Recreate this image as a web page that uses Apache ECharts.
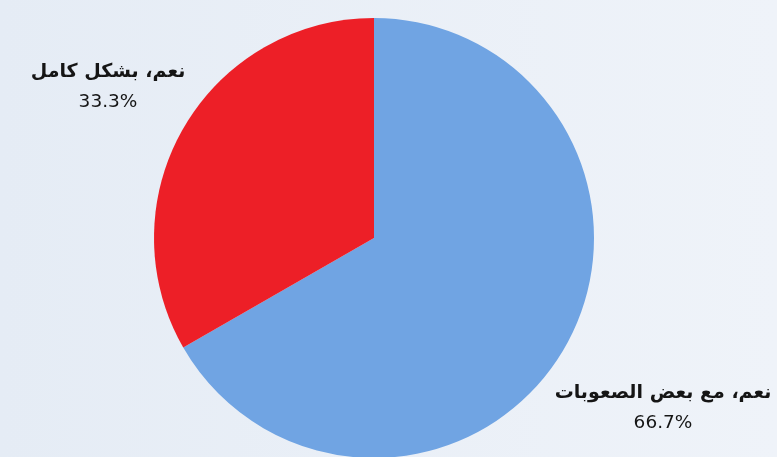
<!DOCTYPE html>
<html>
<head>
<meta charset="utf-8">
<script src="https://cdn.jsdelivr.net/npm/echarts@6/dist/echarts.min.js"></script>
<style>
html,body{margin:0;padding:0;}
#c{width:777px;height:457px;}
</style>
</head>
<body>
<div id="c"></div>
<script>
const categories = ['نعم، مع بعض الصعوبات', 'نعم، بشكل كامل'];
const values = [66.7, 33.3];
const colors = ['#70a4e3', '#ed1f27'];
const labelPos = [[663, 408], [108, 87]];

const chart = echarts.init(document.getElementById('c'));
chart.setOption({
  backgroundColor: new echarts.graphic.LinearGradient(0, 0, 1, 0, [
    {offset: 0, color: '#e5ecf5'},
    {offset: 1, color: '#eff3f9'}
  ]),
  series: [{
    type: 'pie',
    center: [374, 238],
    radius: 220,
    startAngle: 90,
    clockwise: true,
    percentPrecision: 1,
    animation: false,
    data: categories.map((c, i) => ({name: c, value: values[i], itemStyle: {color: colors[i]}})),
    label: {
      show: true,
      position: 'outside',
      overflow: 'none',
      width: 300,
      formatter: '{n|{b}}\n{p|{d}%}',
      align: 'center',
      rich: {
        n: {fontSize: 19, fontWeight: 'bold', color: '#151515', fontFamily: 'DejaVu Sans', lineHeight: 30, align: 'center'},
        p: {fontSize: 18.5, color: '#151515', fontFamily: 'DejaVu Sans', lineHeight: 30, align: 'center'}
      }
    },
    labelLine: {show: false},
    labelLayout: function (params) {
      const p = labelPos[params.dataIndex];
      return {x: p[0], y: p[1], align: 'center', verticalAlign: 'middle'};
    }
  }]
});
</script>
</body>
</html>
